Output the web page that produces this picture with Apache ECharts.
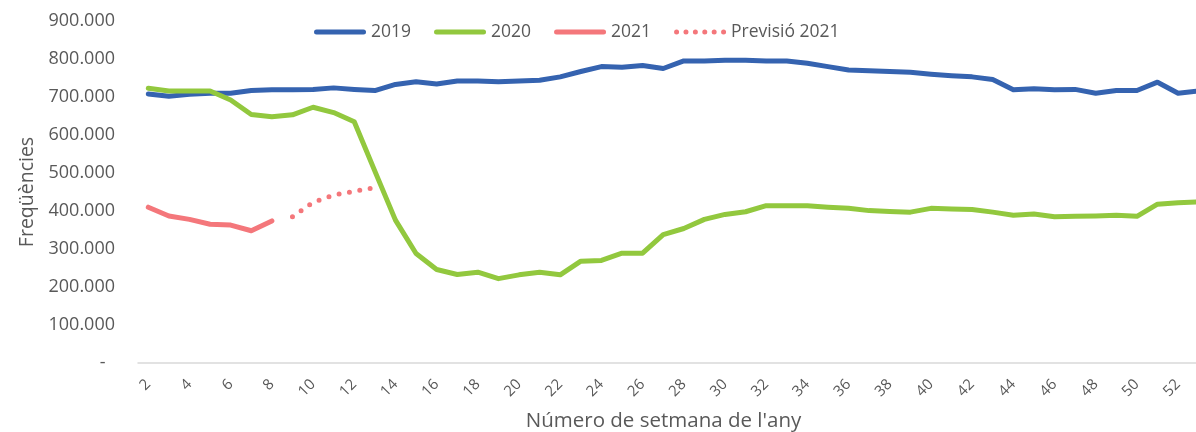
<!DOCTYPE html>
<html>
<head>
<meta charset="utf-8">
<style>
  html, body { margin: 0; padding: 0; background: #fff; }
  #main { width: 1196px; height: 432px; }
</style>
<script src="https://cdn.jsdelivr.net/npm/echarts@6/dist/echarts.min.js"></script>
</head>
<body>
<div id="main"></div>
<script>
// week numbers on the x axis
const weeks = [];
for (let w = 2; w <= 53; w++) weeks.push(String(w));

// weekly frequencies (weeks 2..53)
const y2019 = [
  708000, 702000, 707000, 710000, 710000, 717000, 719000, 719000, 720000, 724000,
  720000, 717000, 733000, 740000, 734000, 742000, 742000, 740000, 742000, 744000,
  753000, 767000, 780000, 778000, 783000, 775000, 795000, 795000, 797000, 797000,
  795000, 795000, 789000, 780000, 771000, 769000, 767000, 765000, 760000, 756000,
  753000, 746000, 719000, 722000, 719000, 720000, 710000, 717000, 717000, 739000,
  710000, 716000
];

const y2020 = [
  723000, 716000, 716000, 716000, 692000, 654000, 648000, 653000, 673000, 659000,
  635000, 505000, 376000, 288000, 246000, 233000, 239000, 222000, 232000, 239000,
  232000, 268000, 270000, 289000, 289000, 338000, 354000, 378000, 391000, 398000,
  414000, 414000, 414000, 410000, 407000, 401000, 399000, 397000, 407000, 405000,
  404000, 397000, 389000, 392000, 385000, 386000, 387000, 389000, 386000, 418000,
  422000, 424000
];

const y2021 = [410000, 387000, 378000, 365000, 363000, 348000, 374000];

// forecast 2021, weeks 9..13
const forecast2021 = [null, null, null, null, null, null, null, 385000, 423000, 442000, 452000, 461000];

const chart = echarts.init(document.getElementById("main"));

const grey = "#595959";
const font = "Open Sans";
const blue = "#3563b0";
const green = "#92c83e";
const red = "#f4777b";

// legend icons: a thick rounded bar, and a row of dots
const barIcon = "path://M2.5,0 H49.5 A2.5,2.5 0 0 1 49.5,5 H2.5 A2.5,2.5 0 0 1 2.5,0 Z";
let dotIcon = "path://";
for (let i = 0; i < 6; i++) {
  const cx = 2.5 + i * 9.4;
  dotIcon += "M" + (cx - 2.5) + ",2.5 a2.5,2.5 0 1 0 5,0 a2.5,2.5 0 1 0 -5,0 Z ";
}

function fmtThousands(v) {
  if (v === 0) return "-  ";
  return String(v).replace(/\B(?=(\d{3})+(?!\d))/g, ".");
}

const option = {
  animation: false,
  textStyle: { fontFamily: font },
  legend: {
    left: 309,
    top: 18,
    itemWidth: 52,
    itemHeight: 5,
    itemGap: 23,
    textStyle: { color: grey, fontSize: 17.5, fontFamily: font },
    data: [
      { name: "2019", icon: barIcon },
      { name: "2020", icon: barIcon },
      { name: "2021", icon: barIcon },
      { name: "Previsió 2021", icon: dotIcon },
    ],
  },
  grid: {
    left: 138,
    width: 1071,
    top: 21,
    bottom: 69,
    containLabel: false,
    outerBoundsMode: "none",
  },
  xAxis: {
    type: "category",
    data: weeks,
    boundaryGap: true,
    name: "Número de setmana de l'any",
    nameLocation: "middle",
    nameGap: 48,
    nameTextStyle: { color: grey, fontSize: 20.5, fontFamily: font, padding: [0, 20, 0, 0] },
    axisLine: { lineStyle: { color: "#d9d9d9", width: 1.5 } },
    axisTick: { show: false },
    axisLabel: {
      interval: 1,
      rotate: 45,
      margin: 19,
      color: grey,
      fontSize: 15,
      fontFamily: font,
    },
  },
  yAxis: {
    type: "value",
    min: 0,
    max: 900000,
    interval: 100000,
    name: "Freqüències",
    nameLocation: "middle",
    nameGap: 100,
    nameTextStyle: { color: grey, fontSize: 19.5, fontFamily: font },
    axisLine: { show: false },
    axisTick: { show: false },
    splitLine: { show: false },
    axisLabel: {
      margin: 23,
      color: grey,
      fontSize: 18,
      fontFamily: font,
      formatter: fmtThousands,
    },
  },
  series: [
    {
      name: "2019",
      type: "line",
      data: y2019,
      symbol: "none",
      itemStyle: { color: blue },
      lineStyle: { color: blue, width: 5, cap: "round", join: "round" },
    },
    {
      name: "2020",
      type: "line",
      data: y2020,
      symbol: "none",
      itemStyle: { color: green },
      lineStyle: { color: green, width: 5, cap: "round", join: "round" },
    },
    {
      name: "2021",
      type: "line",
      data: y2021,
      symbol: "none",
      itemStyle: { color: red },
      lineStyle: { color: red, width: 5, cap: "round", join: "round" },
    },
    {
      name: "Previsió 2021",
      type: "line",
      data: forecast2021,
      symbol: "none",
      itemStyle: { color: red },
      lineStyle: { color: red, width: 5, type: [0, 10.5], cap: "round", join: "round" },
    },
  ],
};

chart.setOption(option);
</script>
</body>
</html>
